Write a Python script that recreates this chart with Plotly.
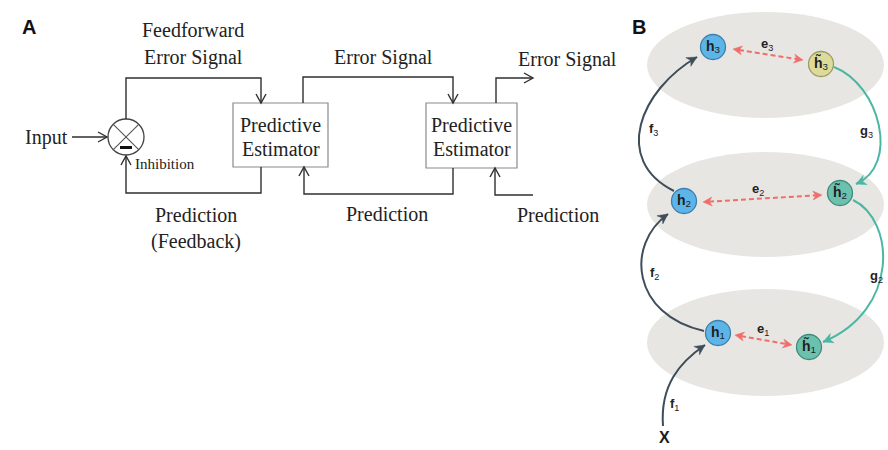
import math
import plotly.graph_objects as go

W, H = 888, 450

# ---------------- text content ----------------
panel_letters = ["A", "B"]
box_text = ["Predictive", "Estimator"]
a_labels = ["Feedforward", "Error Signal", "Input", "Inhibition", "Prediction", "(Feedback)",
            "Error Signal", "Prediction", "Error Signal", "Prediction"]
node_labels = ["<b>h</b><sub>3</sub>", "<b>h̃</b><sub>3</sub>", "<b>h</b><sub>2</sub>",
               "<b>h̃</b><sub>2</sub>", "<b>h</b><sub>1</sub>", "<b>h̃</b><sub>1</sub>"]
edge_labels = ["<b>e</b><sub>3</sub>", "<b>e</b><sub>2</sub>", "<b>e</b><sub>1</sub>",
               "<b>f</b><sub>3</sub>", "<b>f</b><sub>2</sub>", "<b>f</b><sub>1</sub>",
               "<b>g</b><sub>3</sub>", "<b>g</b><sub>2</sub>", "<b>X</b>"]

# ---------------- layout geometry ----------------
node_x = [713, 821, 684, 840, 718, 809]
node_y = [47, 64, 201, 193, 333, 347]
node_fill = ["#5cb5e6", "#dcdb9c", "#5cb5e6", "#6cc0ae", "#5cb5e6", "#6cc0ae"]
node_edge = ["#3b7fae", "#9c9b60", "#3b7fae", "#3f8b7d", "#3b7fae", "#3f8b7d"]

shapes = []
annotations = []

LINE_A = "#2f2f2f"


def poly(pts, color, width, dash=None, fill=None, close=False):
    path = "M " + " L ".join(f"{x:.2f},{y:.2f}" for x, y in pts)
    if close:
        path += " Z"
    d = dict(type="path", path=path, xref="x", yref="y",
             line=dict(color=color, width=width))
    if dash:
        d["line"]["dash"] = dash
    if fill:
        d["fillcolor"] = fill
    shapes.append(d)


def unit(tip, frm):
    dx, dy = tip[0] - frm[0], tip[1] - frm[1]
    n = math.hypot(dx, dy)
    return dx / n, dy / n


def chevron(tip, frm, color=LINE_A, width=1.4, L=9, hw=5):
    ux, uy = unit(tip, frm)
    bx, by = tip[0] - ux * L, tip[1] - uy * L
    px, py = -uy, ux
    poly([(bx + px * hw, by + py * hw), tip, (bx - px * hw, by - py * hw)], color, width)


def tri(tip, frm, color, L=9, hw=4.5):
    ux, uy = unit(tip, frm)
    bx, by = tip[0] - ux * L, tip[1] - uy * L
    nx, ny = tip[0] - ux * L * 0.7, tip[1] - uy * L * 0.7
    px, py = -uy, ux
    poly([tip, (bx + px * hw, by + py * hw), (nx, ny), (bx - px * hw, by - py * hw)],
         color, 0.5, fill=color, close=True)


def text(x, y, s, size, family="Liberation Serif", color="#222", xanchor="center"):
    annotations.append(dict(x=x, y=y, xref="x", yref="y", text=s, showarrow=False,
                            xanchor=xanchor, yanchor="middle",
                            font=dict(family=family, size=size, color=color)))


# ================= Panel A =================
text(29, 27, "<b>" + panel_letters[0] + "</b>", 20, family="Liberation Sans", color="#111")

# summing junction
cx, cy, r = 126, 137, 18
shapes.append(dict(type="circle", xref="x", yref="y", x0=cx - r, x1=cx + r, y0=cy - r, y1=cy + r,
                   line=dict(color="#444", width=1.3), fillcolor="white"))
k = r * 0.707
poly([(cx - k, cy - k), (cx + k, cy + k)], "#555", 1.1)
poly([(cx + k, cy - k), (cx - k, cy + k)], "#555", 1.1)
poly([(cx - 6, cy + 10.5), (cx + 6, cy + 10.5)], "#111", 3)

# input arrow
poly([(72, 137), (cx - r - 1, 137)], LINE_A, 1.4)
chevron((cx - r - 1, 137), (72, 137))

# boxes
boxes = [(233, 103, 328, 167), (426, 103, 517, 168)]
for (x0, y0, x1, y1) in boxes:
    shapes.append(dict(type="rect", xref="x", yref="y", x0=x0, x1=x1, y0=y0, y1=y1,
                       line=dict(color="#8a8a8a", width=1.2), fillcolor="white"))
    xc = (x0 + x1) / 2
    text(xc, 125, box_text[0], 20)
    text(xc, 149, box_text[1], 20)

# feedforward error signal
poly([(cx, cy - r), (cx, 78), (261, 78), (261, 103)], LINE_A, 1.4)
chevron((261, 103), (261, 78))
# feedback prediction
poly([(261, 167), (261, 193), (cx, 193), (cx, cy + r + 1)], LINE_A, 1.4)
chevron((cx, cy + r + 1), (cx, 193))
# error signal box1 -> box2
poly([(303, 103), (303, 77), (453, 77), (453, 103)], LINE_A, 1.4)
chevron((453, 103), (453, 77))
# prediction box2 -> box1
poly([(453, 168), (453, 194), (304, 194), (304, 167)], LINE_A, 1.4)
chevron((304, 167), (304, 194))
# output error signal
poly([(496, 103), (496, 78), (533, 78)], LINE_A, 1.4)
chevron((533, 78), (496, 78))
# incoming prediction
poly([(533, 195), (495, 195), (495, 168)], LINE_A, 1.4)
chevron((495, 168), (495, 195))

text(193, 30, a_labels[0], 20)
text(193, 57, a_labels[1], 20)
text(46, 137, a_labels[2], 20)
text(133, 164, a_labels[3], 15, xanchor="left")
text(196, 215, a_labels[4], 20)
text(196, 241, a_labels[5], 20)
text(383, 57, a_labels[6], 20)
text(387, 214, a_labels[7], 20)
text(567, 59, a_labels[8], 20)
text(558, 215, a_labels[9], 20)

# ================= Panel B =================
text(639, 27, "<b>" + panel_letters[1] + "</b>", 20, family="Liberation Sans", color="#111")

ELL = "#e8e6e2"
for (y0, y1) in [(12, 118), (152, 257), (289, 396)]:
    shapes.append(dict(type="circle", xref="x", yref="y", x0=647, x1=884, y0=y0, y1=y1,
                       line=dict(width=0), fillcolor=ELL, layer="below"))

DARK = "#3d4d59"
TEAL = "#4bb7a3"
RED = "#ef6e6b"


def curve(p0, c1, c2, p1, color):
    shapes.append(dict(type="path", xref="x", yref="y",
                       path=f"M {p0[0]},{p0[1]} C {c1[0]},{c1[1]} {c2[0]},{c2[1]} {p1[0]},{p1[1]}",
                       line=dict(color=color, width=2)))
    tri(p1, c2, color, L=10, hw=5)


curve((674, 191), (612, 160), (640, 90), (697, 57), DARK)   # f3
curve((704, 331), (632, 315), (625, 245), (668, 214), DARK)  # f2
curve((663, 426), (660, 385), (680, 362), (705, 345), DARK)  # f1
curve((834, 67), (880, 85), (900, 165), (856, 184), TEAL)    # g3
curve((853, 200), (895, 220), (900, 310), (823, 342), TEAL)  # g2

for (a, b) in [((733, 49), (803, 60)), ((703, 202), (822, 195)), ((735, 335), (792, 345))]:
    ux, uy = unit(b, a)
    poly([(a[0] + ux * 6, a[1] + uy * 6), (b[0] - ux * 6, b[1] - uy * 6)], RED, 2, dash="5px,3px")
    tri(b, a, RED, L=9, hw=4.5)
    tri(a, b, RED, L=9, hw=4.5)

SANS = "Liberation Sans"
text(767, 44, edge_labels[0], 13, family=SANS)
text(758, 189, edge_labels[1], 13, family=SANS)
text(763, 329, edge_labels[2], 13, family=SANS)
text(653, 129, edge_labels[3], 13, family=SANS)
text(654, 273, edge_labels[4], 13, family=SANS)
text(674, 404, edge_labels[5], 13, family=SANS)
text(866, 131, edge_labels[6], 13, family=SANS)
text(876, 276, edge_labels[7], 13, family=SANS)
text(664, 437, edge_labels[8], 16, family=SANS, color="#1c1c1c")

fig = go.Figure()
fig.add_trace(go.Scatter(
    x=node_x, y=node_y, mode="markers+text", text=node_labels,
    textposition="middle center",
    textfont=dict(family=SANS, size=14, color="#1e1e1e"),
    marker=dict(size=25, color=node_fill, line=dict(color=node_edge, width=1.3)),
    hoverinfo="skip", showlegend=False, cliponaxis=False))

fig.update_layout(
    width=W, height=H, autosize=False,
    margin=dict(l=0, r=0, t=0, b=0),
    paper_bgcolor="white", plot_bgcolor="white",
    xaxis=dict(range=[0, W], visible=False, fixedrange=True),
    yaxis=dict(range=[H, 0], visible=False, fixedrange=True),
    shapes=shapes, annotations=annotations, showlegend=False)

fig.write_html("out.html", config={"displayModeBar": False},
               post_script="document.body.style.margin='0px';document.body.style.overflow='hidden';")
